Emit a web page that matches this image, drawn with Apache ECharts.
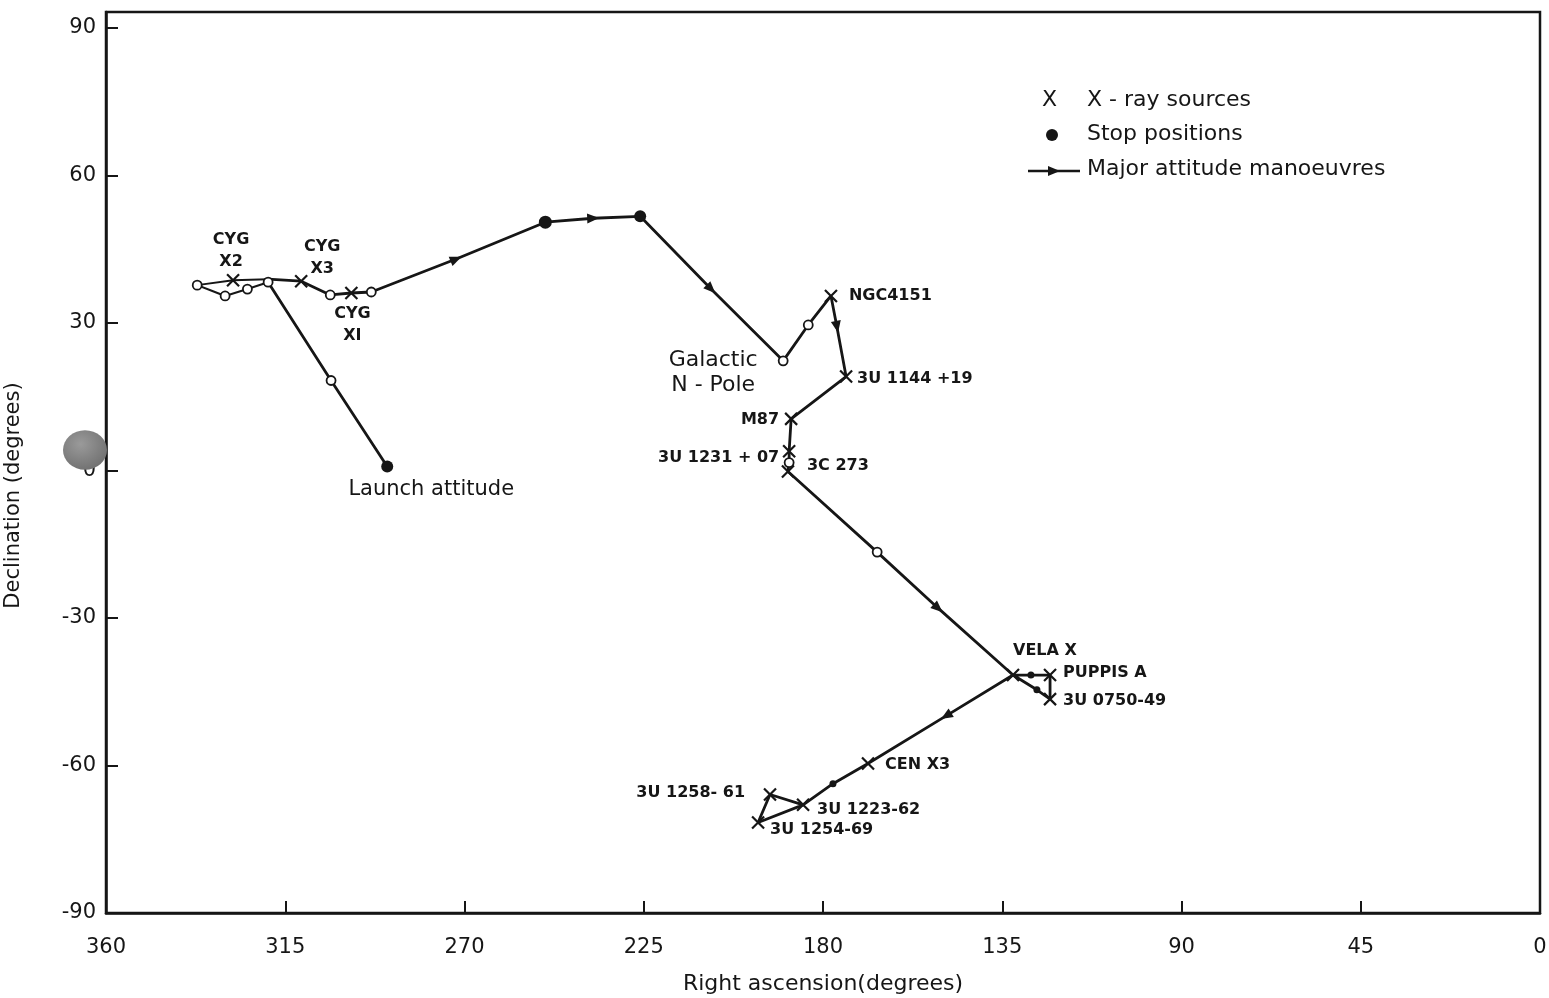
<!DOCTYPE html>
<html>
<head>
<meta charset="utf-8">
<script src="https://cdn.jsdelivr.net/npm/echarts/dist/echarts.min.js"></script>
<style>
html,body{margin:0;padding:0;background:#fff;}
#chart{width:1549px;height:998px;}
</style>
</head>
<body>
<div id="chart"></div>
<script>
// ---------- DATA (RA, Dec in degrees) ----------
const xTickValues = [360, 315, 270, 225, 180, 135, 90, 45, 0];
const yTickValues = [90, 60, 30, 0, -30, -60, -90];

const launchLeg = [[289.4, 0.8], [303.5, 18.3], [319.3, 38.3]];
const cygnusLoop = [[319.3, 38.3], [324.5, 36.9], [330.1, 35.5], [333.3, 36.5], [337.1, 37.7], [328.1, 38.7], [319.3, 38.9]];
const mainPath = [[319.3, 38.9], [311.0, 38.5], [303.7, 35.7], [298.4, 36.1], [293.4, 36.3], [272.1, 43.0],
  [249.7, 50.5], [237.7, 51.3], [225.9, 51.7], [208.1, 36.9], [190.0, 22.3], [183.7, 29.6], [178.0, 35.5],
  [176.5, 29.2], [174.2, 19.1], [188.0, 10.5], [188.5, 3.9], [188.5, 1.6], [188.8, -0.2], [166.4, -16.6],
  [151.1, -28.0], [132.3, -41.6], [127.8, -41.6], [123.0, -41.6], [123.0, -46.5], [126.3, -44.6],
  [132.3, -41.6], [149.1, -49.9], [168.7, -59.6], [177.5, -63.7], [185.0, -68.0], [196.3, -71.6],
  [193.3, -65.9], [185.0, -68.0]];

const sourceNames = ['CYG\nX2', 'CYG\nX3', 'CYG\nXI', 'NGC4151', '3U 1144 +19', 'M87', '3U 1231 + 07', '3C 273',
  'VELA X', 'PUPPIS A', '3U 0750-49', 'CEN X3', '3U 1258- 61', '3U 1223-62', '3U 1254-69'];
const sourceRA = [328.1, 311.0, 298.4, 178.0, 174.2, 188.0, 188.5, 188.8, 132.3, 123.0, 123.0, 168.7, 193.3, 185.0, 196.3];
const sourceDec = [38.7, 38.5, 36.1, 35.5, 19.1, 10.5, 3.9, -0.2, -41.6, -41.6, -46.5, -59.6, -65.9, -68.0, -71.6];

const stopRA = [289.4, 249.7, 225.9];
const stopDec = [0.8, 50.5, 51.7];
const smallDotRA = [127.8, 126.3, 177.5];
const smallDotDec = [-41.6, -44.6, -63.7];

const waypointRA = [303.5, 319.3, 337.1, 330.1, 324.5, 303.7, 293.4, 190.0, 183.7, 188.5, 166.4];
const waypointDec = [18.3, 38.3, 37.7, 35.5, 36.9, 35.7, 36.3, 22.3, 29.6, 1.6, -16.6];

const arrowAt = [[272.1, 43.0], [237.7, 51.3], [208.1, 36.9], [176.5, 29.2], [151.1, -28.0], [149.1, -49.9]];
const arrowToward = [[249.7, 50.5], [225.9, 51.7], [190.0, 22.3], [174.2, 19.1], [132.3, -41.6], [168.7, -59.6]];

const launchText = 'Launch attitude';
const poleText = 'Galactic\nN - Pole';

// ---------- STYLE ----------
const INK = '#161616';
const FONT = "'DejaVu Sans', 'Liberation Sans', sans-serif";
const labelStyles = {
  'CYG\nX2': {align: 'center', offset: [-2, -29]},
  'CYG\nX3': {align: 'center', offset: [21, -23]},
  'CYG\nXI': {align: 'center', offset: [1, 32]},
  'NGC4151': {align: 'left', offset: [18, 0]},
  '3U 1144 +19': {align: 'left', offset: [11, 2]},
  'M87': {align: 'right', offset: [-12, 1]},
  '3U 1231 + 07': {align: 'right', offset: [-10, 7]},
  '3C 273': {align: 'left', offset: [19, -6]},
  'VELA X': {align: 'left', offset: [0, -24]},
  'PUPPIS A': {align: 'left', offset: [13, -2]},
  '3U 0750-49': {align: 'left', offset: [13, 2]},
  'CEN X3': {align: 'left', offset: [17, 1]},
  '3U 1258- 61': {align: 'right', offset: [-25, -2]},
  '3U 1223-62': {align: 'left', offset: [14, 5]},
  '3U 1254-69': {align: 'left', offset: [12, 7]}
};

const XPATH = 'path://M0,0L10,10M10,0L0,10';

const sourceData = sourceNames.map((n, i) => ({
  name: n,
  value: [sourceRA[i], sourceDec[i]],
  label: {
    show: true, formatter: n, position: 'inside',
    align: labelStyles[n].align, verticalAlign: 'middle',
    offset: labelStyles[n].offset,
    color: INK, fontFamily: FONT, fontWeight: 'bold', fontSize: 16, lineHeight: 22
  }
}));

const stopData = stopRA.map((r, i) => {
  const d = {value: [r, stopDec[i]], symbolSize: i === 1 ? 13 : 12};
  if (i === 0) {
    d.label = {show: true, formatter: launchText, position: 'inside', align: 'center', verticalAlign: 'middle',
      offset: [44, 23], color: INK, fontFamily: FONT, fontSize: 21};
  }
  return d;
});

const waypointData = waypointRA.map((r, i) => {
  const d = {value: [r, waypointDec[i]]};
  if (i === 7) {
    d.label = {show: true, formatter: poleText, position: 'inside', align: 'center', verticalAlign: 'middle',
      offset: [-70, 12], color: INK, fontFamily: FONT, fontSize: 22, lineHeight: 25};
  }
  return d;
});

const lineStyle = {color: INK, width: 2.8};

const option = {
  backgroundColor: '#ffffff',
  animation: false,
  grid: {left: 106, right: 9, top: 12, bottom: 85, containLabel: false, outerBoundsMode: 'none',
    show: true, borderColor: INK, borderWidth: 2.5, backgroundColor: 'transparent'},
  xAxis: {
    type: 'value', min: 0, max: 360, interval: 45, inverse: true,
    axisLine: {show: true, onZero: false, lineStyle: {color: INK, width: 2.5}},
    axisTick: {show: true, inside: true, length: 12, lineStyle: {color: INK, width: 2}, customValues: xTickValues.slice(1, -1)},
    axisLabel: {color: INK, fontFamily: FONT, fontSize: 21, margin: 24, customValues: xTickValues},
    splitLine: {show: false},
    name: 'Right ascension(degrees)', nameLocation: 'middle', nameGap: 60,
    nameTextStyle: {color: INK, fontFamily: FONT, fontSize: 22}
  },
  yAxis: {
    type: 'value', min: -90, max: 93.25,
    axisLine: {show: true, onZero: false, lineStyle: {color: INK, width: 2.5}},
    axisTick: {show: true, inside: true, length: 12, lineStyle: {color: INK, width: 2}, customValues: yTickValues.slice(0, -1)},
    axisLabel: {color: INK, fontFamily: FONT, fontSize: 21, margin: 10, customValues: yTickValues,
      formatter: v => (Math.abs(v % 30) < 1e-6 ? String(v) : '')},
    splitLine: {show: false},
    name: 'Declination (degrees)', nameLocation: 'middle', nameGap: 82, nameRotate: 90,
    nameTextStyle: {color: INK, fontFamily: FONT, fontSize: 21, padding: [0, 66, 0, 0]}
  },
  graphic: [
    {type: 'circle', shape: {cx: 85, cy: 450, r: 22}, scaleY: 0.9, originX: 85, originY: 450,
      style: {fill: new echarts.graphic.RadialGradient(0.4, 0.35, 0.8, [{offset: 0, color: '#9a9a9a'}, {offset: 1, color: '#6a6a6a'}])}, z: 100},
    // legend
    {type: 'text', left: 1042, top: 89, style: {text: 'X', fill: INK, font: '22px ' + FONT}},
    {type: 'text', left: 1087, top: 89, style: {text: 'X - ray sources', fill: INK, font: '22px ' + FONT}},
    {type: 'circle', shape: {cx: 1052, cy: 135, r: 6}, style: {fill: INK}},
    {type: 'text', left: 1087, top: 123, style: {text: 'Stop positions', fill: INK, font: '22px ' + FONT}},
    {type: 'line', shape: {x1: 1028, y1: 171, x2: 1080, y2: 171}, style: {stroke: INK, lineWidth: 2.5}},
    {type: 'polygon', shape: {points: [[1048, 166], [1060, 171], [1048, 176]]}, style: {fill: INK}},
    {type: 'text', left: 1087, top: 158, style: {text: 'Major attitude manoeuvres', fill: INK, font: '22px ' + FONT}}
  ],
  series: [
    {type: 'line', data: launchLeg, showSymbol: false, lineStyle: lineStyle, z: 2},
    {type: 'line', data: cygnusLoop, showSymbol: false, lineStyle: Object.assign({}, lineStyle, {width: 2}), z: 2},
    {type: 'line', data: mainPath, showSymbol: false, lineStyle: lineStyle, z: 2},
    {type: 'scatter', data: waypointData, symbol: 'circle', symbolSize: 9,
      itemStyle: {color: '#ffffff', borderColor: INK, borderWidth: 1.8, opacity: 1}, z: 4},
    {type: 'scatter', data: stopData, symbol: 'circle', itemStyle: {color: INK, opacity: 1}, z: 5},
    {type: 'scatter', data: smallDotRA.map((r, i) => [r, smallDotDec[i]]), symbol: 'circle', symbolSize: 7,
      itemStyle: {color: INK, opacity: 1}, z: 5},
    {type: 'scatter', data: sourceData, symbol: XPATH, symbolSize: 12,
      itemStyle: {color: 'none', borderColor: INK, borderWidth: 2.2, opacity: 1}, z: 6},
    {id: 'arrows', type: 'scatter', data: arrowAt, symbol: 'triangle', symbolSize: [10, 12],
      itemStyle: {color: INK, opacity: 1}, z: 5}
  ]
};

const chart = echarts.init(document.getElementById('chart'), null, {renderer: 'canvas'});
chart.setOption(option);

// orient arrows along the path direction (in pixel space)
const arrowData = arrowAt.map((p, i) => {
  const a = chart.convertToPixel({gridIndex: 0}, p);
  const b = chart.convertToPixel({gridIndex: 0}, arrowToward[i]);
  const dx = b[0] - a[0], dy = b[1] - a[1];
  const rot = Math.atan2(-dx, -dy) * 180 / Math.PI;
  return {value: p, symbolRotate: rot};
});
chart.setOption({series: [{id: 'arrows', data: arrowData}]});
</script>
</body>
</html>
